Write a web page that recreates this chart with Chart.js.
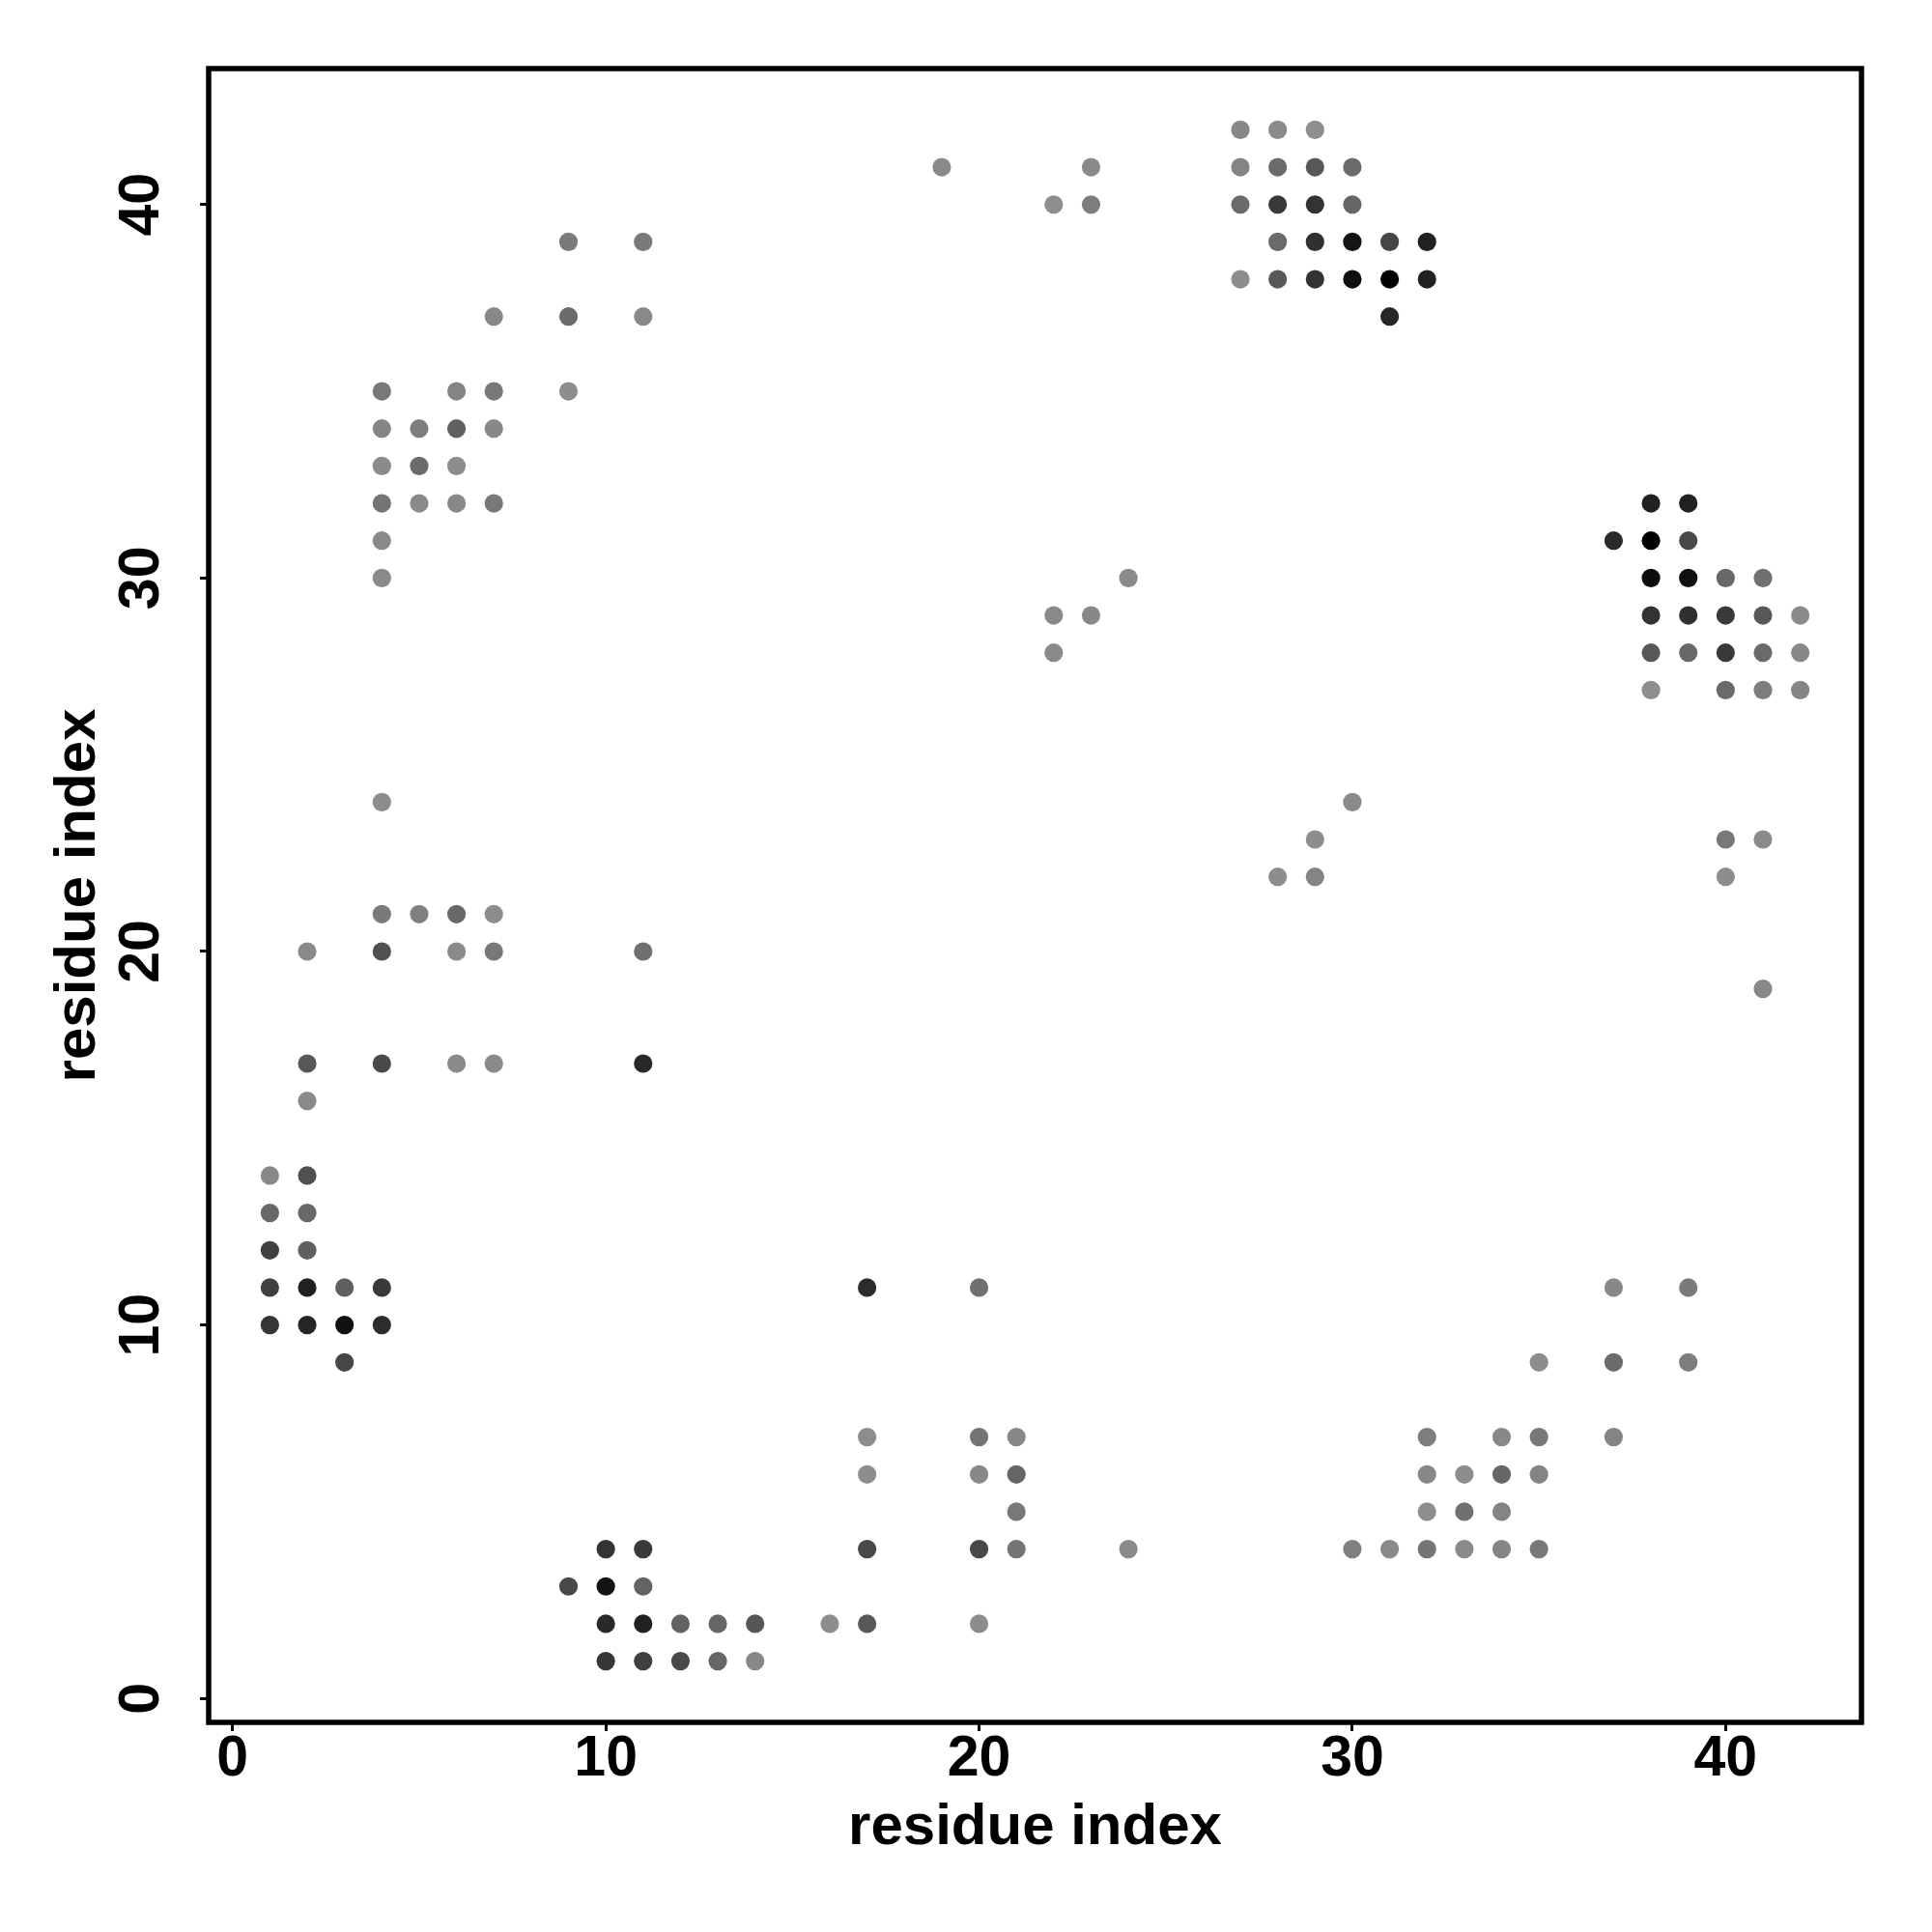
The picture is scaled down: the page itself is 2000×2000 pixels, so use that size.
<!DOCTYPE html>
<html>
<head>
<meta charset="utf-8">
<script src="https://cdn.jsdelivr.net/npm/chart.js@4/dist/chart.umd.min.js"></script>
<style>
html, body { margin: 0; padding: 0; background: #ffffff; }
#wrap { width: 2000px; height: 2000px; }
</style>
</head>
<body>
<div id="wrap"><canvas id="c" width="2000" height="2000"></canvas></div>
<script>
// residue pairs (i, j) in contact and their contact score (darker = higher)
const resI = [
  4, 4,5,6,7, 2,4,6,7, 2,4,6,7, 2, 1,2, 1,2, 1,2, 1,2,3,4, 1,2,3,4, 3, 11,11,
  9,11, 7,9,11, 4,6,7,9, 4,5,6,7, 4,5,6, 4,5,6,7, 4,4,
  27,28,29, 19,23,27,28,29,30, 22,23,27,28,29,30, 28,29,30,31,32, 27,28,29,30,31,32, 31,
  24,22,23,22, 30,29,28,29,
  38,39, 37,38,39, 38,39,40,41, 38,39,40,41,42, 38,39,40,41,42, 38,40,41,42, 40,41,40,41,
  20,37,39, 35,37,39, 20,21,32,34,35,37, 20,21,32,33,34,35, 21,32,33,34, 20,21,24,30,31,32,33,34,35, 20,
  17,17,17, 10,11,17, 9,10,11, 10,11,12,13,14,16,17, 10,11,12,13,14
];
const resJ = [
  24, 21,21,21,21, 20,20,20,20, 17,17,17,17, 16, 14,14, 13,13, 12,12, 11,11,11,11, 10,10,10,10, 9, 20,17,
  39,39, 37,37,37, 35,35,35,35, 34,34,34,34, 33,33,33, 32,32,32,32, 31,30,
  42,42,42, 41,41,41,41,41,41, 40,40,40,40,40,40, 39,39,39,39,39, 38,38,38,38,38,38, 37,
  30,29,29,28, 24,23,22,22,
  32,32, 31,31,31, 30,30,30,30, 29,29,29,29,29, 28,28,28,28,28, 27,27,27,27, 23,23,22,19,
  11,11,11, 9,9,9, 7,7,7,7,7,7, 6,6,6,6,6,6, 5,5,5,5, 4,4,4,4,4,4,4,4,4, 2,
  11,7,6, 4,4,4, 3,3,3, 2,2,2,2,2,2,2, 1,1,1,1,1
];
const score = [
  0.03, 0.16,0.12,0.28,0.03, 0.05,0.45,0.05,0.17, 0.39,0.50,0.05,0.05, 0.05, 0.06,0.45, 0.28,0.28, 0.56,0.34, 0.56,0.77,0.34,0.61, 0.63,0.74,0.88,0.70, 0.52, 0.23,0.72,
  0.16,0.16, 0.06,0.26,0.06, 0.17,0.09,0.17,0.03, 0.08,0.13,0.34,0.06, 0.05,0.26,0.03, 0.20,0.05,0.06,0.17, 0.05,0.05,
  0.06,0.05,0.02, 0.05,0.05,0.09,0.26,0.39,0.26, 0.02,0.14,0.26,0.61,0.65,0.30, 0.27,0.67,0.86,0.52,0.77, 0.03,0.39,0.65,0.89,0.99,0.77, 0.74,
  0.05,0.05,0.06,0.05, 0.05,0.03,0.03,0.09,
  0.77,0.77, 0.72,0.99,0.50, 0.92,0.89,0.28,0.23, 0.65,0.67,0.61,0.39,0.05, 0.39,0.28,0.61,0.27,0.06, 0.02,0.27,0.14,0.08, 0.17,0.05,0.03,0.06,
  0.23,0.06,0.16, 0.03,0.26,0.14, 0.20,0.06,0.14,0.06,0.17,0.08, 0.06,0.30,0.06,0.03,0.30,0.09, 0.17,0.02,0.23,0.09, 0.50,0.20,0.05,0.12,0.05,0.19,0.05,0.08,0.17, 0.03,
  0.70,0.03,0.03, 0.65,0.60,0.50, 0.50,0.86,0.32, 0.72,0.77,0.32,0.30,0.41,0.03,0.39, 0.63,0.56,0.50,0.30,0.06
];
const tickVals = [0, 10, 20, 30, 40];
const axisTitle = 'residue index';

const points = resI.map((x, k) => ({ x: x, y: resJ[k], s: score[k] }));
function shade(s) {
  const g = Math.round(145 * (1 - s));
  return 'rgb(' + g + ',' + g + ',' + g + ')';
}
const colors = points.map(p => shade(p.s));

const frame = {
  id: 'frame',
  afterDraw(chart) {
    const a = chart.chartArea, ctx = chart.ctx;
    ctx.save();
    ctx.strokeStyle = '#000';
    ctx.lineWidth = 5.5;
    ctx.lineJoin = 'miter';
    ctx.strokeRect(a.left, a.top, a.right - a.left, a.bottom - a.top);
    ctx.restore();
  }
};

const fontFam = '"Liberation Sans", Arial, Helvetica, sans-serif';

new Chart(document.getElementById('c'), {
  type: 'scatter',
  data: {
    datasets: [{
      data: points,
      pointRadius: 9.6,
      pointHoverRadius: 9.6,
      pointBorderWidth: 0,
      pointBackgroundColor: colors,
      pointBorderColor: colors
    }]
  },
  options: {
    responsive: false,
    animation: false,
    devicePixelRatio: 1,
    layout: { padding: { left: 0, right: 73, top: 71, bottom: 0 } },
    plugins: { legend: { display: false }, tooltip: { enabled: false } },
    scales: {
      x: {
        type: 'linear',
        min: -0.64, max: 43.64,
        afterBuildTicks: s => { s.ticks = tickVals.map(v => ({ value: v })); },
        afterFit: s => { s.height = 217; },
        border: { display: false },
        grid: { drawOnChartArea: false, drawTicks: true, tickLength: 9, lineWidth: 3, color: '#000' },
        ticks: { color: '#000', padding: -6, maxRotation: 0, font: { family: fontFam, size: 59, weight: 'bold' } },
        title: { display: true, text: axisTitle, color: '#000', padding: { top: 0, bottom: 72 }, font: { family: fontFam, size: 60, weight: 'bold' } }
      },
      y: {
        type: 'linear',
        min: -0.64, max: 43.64,
        afterBuildTicks: s => { s.ticks = tickVals.map(v => ({ value: v })); },
        afterFit: s => { s.width = 216; },
        border: { display: false },
        grid: { drawOnChartArea: false, drawTicks: true, tickLength: 9, lineWidth: 3, color: '#000' },
        ticks: { color: '#000', padding: 26, minRotation: 90, maxRotation: 90, crossAlign: 'center', font: { family: fontFam, size: 59, weight: 'bold' } },
        title: { display: true, text: axisTitle, color: '#000', padding: { top: 45, bottom: 0 }, font: { family: fontFam, size: 60, weight: 'bold' } }
      }
    }
  },
  plugins: [frame]
});
</script>
</body>
</html>
